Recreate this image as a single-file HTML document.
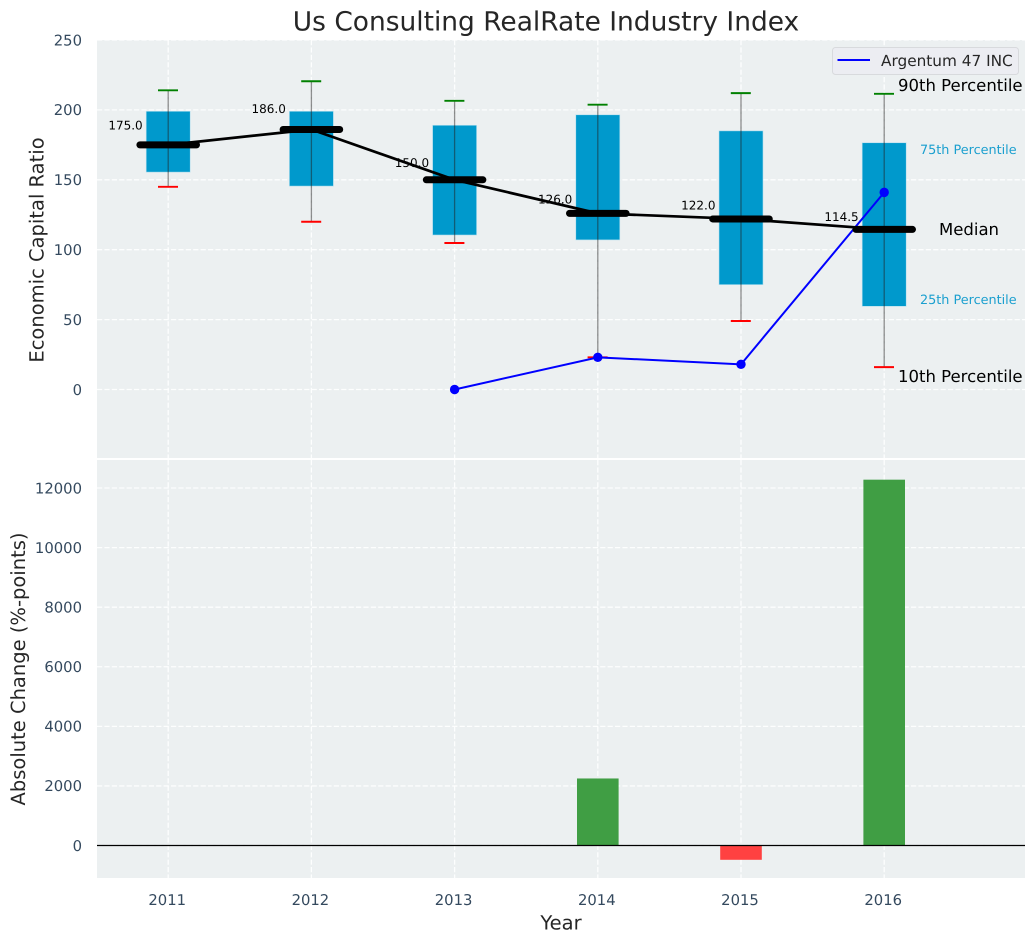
<!DOCTYPE html>
<html lang="en">
<head>
<meta charset="utf-8">
<title>Us Consulting RealRate Industry Index</title>
<style>
html,body{margin:0;padding:0;background:#fff;width:1035px;height:942px;overflow:hidden}
svg{display:block;font-family:"DejaVu Sans","Liberation Sans",sans-serif;text-rendering:geometricPrecision}
</style>
</head>
<body>
<svg id="chart" xmlns="http://www.w3.org/2000/svg" width="1035" height="942" viewBox="0 0 1035 942">
<rect x="0" y="0" width="1035" height="942" fill="#ffffff"/>
<rect x="97" y="40" width="928" height="418" fill="#ecf0f1"/>
<rect x="97" y="460" width="928" height="418" fill="#ecf0f1"/>
<g id="top-grid"></g>
<g id="bottom-grid"></g>
<g id="bars"></g>
<g id="boxes"></g>
<g id="company-line"></g>
<g id="medians"></g>
<g id="labels"></g>
<text x="546" y="30.500" font-size="26.450" text-anchor="middle" fill="#262626">Us Consulting RealRate Industry Index</text>
<text transform="translate(43.500,250) rotate(-90)" font-size="19.500" text-anchor="middle" fill="#262626">Economic Capital Ratio</text>
<text transform="translate(25,669) rotate(-90)" font-size="19.500" text-anchor="middle" fill="#262626">Absolute Change (%-points)</text>
<text x="561" y="929.300" font-size="19.500" text-anchor="middle" fill="#262626">Year</text>
<text x="898" y="91" font-size="16.500" fill="#000000">90th Percentile</text>
<text x="920" y="154" font-size="12.800" fill="#1a9fcf">75th Percentile</text>
<text x="939" y="235" font-size="16.500" fill="#000000">Median</text>
<text x="920" y="304" font-size="12.800" fill="#1a9fcf">25th Percentile</text>
<text x="898" y="382" font-size="16.500" fill="#000000">10th Percentile</text>
<g>
<rect x="832.500" y="47.500" width="186" height="27" rx="3" fill="#ecedf2" stroke="#d8dadd" stroke-width="1"/>
<line x1="837.500" y1="60" x2="870" y2="60" stroke="#0000ff" stroke-width="2"/>
<text x="881" y="66" font-size="15.300" fill="#262626">Argentum 47 INC</text>
</g>
</svg>
<script>
const years = [2011, 2012, 2013, 2014, 2015, 2016];
const p90 = [214, 220.5, 206.5, 203.7, 212, 211.5];
const p75 = [199, 199, 189, 196.5, 185, 176.5];
const medianValues = [175, 186, 150, 126, 122, 114.5];
const p25 = [155.5, 145.5, 110.5, 107, 75, 59.5];
const p10 = [145, 120, 104.8, 23, 49, 16];
const companyValues = [null, null, 0, 23, 18, 141];
const changeValues = [null, null, null, 2250, -480, 12280];
const topTicks = [0, 50, 100, 150, 200, 250];
const bottomTicks = [0, 2000, 4000, 6000, 8000, 10000, 12000];

const svgNS = 'http://www.w3.org/2000/svg';
function xPos(i) { return 168.2 + i * 143.2; }
function yTop(v) { return 389.5 - v * 1.398; }
function yBottom(v) { return 845.5 - v * 0.02979; }
function make(tag, parent, attrs) {
  const el = document.createElementNS(svgNS, tag);
  for (const k in attrs) el.setAttribute(k, attrs[k]);
  parent.appendChild(el);
  return el;
}
const topGrid = document.getElementById('top-grid');
const bottomGrid = document.getElementById('bottom-grid');
const barsG = document.getElementById('bars');
const boxesG = document.getElementById('boxes');
const companyG = document.getElementById('company-line');
const mediansG = document.getElementById('medians');
const labelsG = document.getElementById('labels');
const dash = { stroke: '#ffffff', 'stroke-width': 1.3, 'stroke-dasharray': '5.2 2.2', 'stroke-opacity': 0.9 };

topTicks.forEach(function (t) {
  const y = yTop(t);
  const g = make('line', topGrid, Object.assign({ x1: 97, x2: 1025, y1: y, y2: y }, dash));
  
  
  const l = make('text', labelsG, { x: 82, y: y + 5.3, 'text-anchor': 'end', 'font-size': 14.8, fill: '#34495e' });
  
  
  l.textContent = t;
});
bottomTicks.forEach(function (t) {
  const y = yBottom(t);
  const g = make('line', bottomGrid, Object.assign({ x1: 97, x2: 1025, y1: y, y2: y }, dash));
  
  
  const l = make('text', labelsG, { x: 82, y: y + 5.3, 'text-anchor': 'end', 'font-size': 14.8, fill: '#34495e' });
  
  
  l.textContent = t;
});
years.forEach(function (year, i) {
  const x = xPos(i);
  const g1 = make('line', topGrid, Object.assign({ x1: x, x2: x, y1: 40, y2: 458 }, dash));
  
  
  const g2 = make('line', bottomGrid, Object.assign({ x1: x, x2: x, y1: 460, y2: 878 }, dash));
  
  
  const l = make('text', labelsG, { x: x - 1, y: 905, 'text-anchor': 'middle', 'font-size': 14.8, fill: '#34495e' });
  
  
  l.textContent = year;
});

changeValues.forEach(function (v, i) {
  if (v === null) return;
  const x = xPos(i);
  const a = yBottom(Math.max(v, 0));
  const b = yBottom(Math.min(v, 0));
  const r = make('rect', barsG, { x: x - 20.8, y: a, width: 41.6, height: b - a, fill: v >= 0 ? '#3a9b3e' : '#ff3b3b', 'fill-opacity': 0.97 });
  
  
});
const zero = make('line', barsG, { x1: 97, x2: 1025, y1: yBottom(0), y2: yBottom(0), stroke: '#000000', 'stroke-width': 1.3 });



years.forEach(function (year, i) {
  const x = xPos(i);
  const box = make('rect', boxesG, { x: x - 22, y: yTop(p75[i]), width: 44, height: yTop(p25[i]) - yTop(p75[i]), fill: '#0099cc', stroke: '#b5dfee', 'stroke-width': 0.6 });
  
  
  const w = make('line', boxesG, { x1: x, x2: x, y1: yTop(p90[i]), y2: yTop(p10[i]), stroke: '#1f1f1f', 'stroke-opacity': 0.5, 'stroke-width': 1.3 });
  
  
  const hi = make('line', boxesG, { x1: x - 10.2, x2: x + 9.8, y1: yTop(p90[i]), y2: yTop(p90[i]), stroke: '#008000', 'stroke-width': 1.9 });
  
  
  const lo = make('line', boxesG, { x1: x - 10.2, x2: x + 9.8, y1: yTop(p10[i]), y2: yTop(p10[i]), stroke: '#ff0000', 'stroke-width': 1.9 });
  
  
});

let companyPts = [];
companyValues.forEach(function (v, i) {
  if (v !== null) companyPts.push(xPos(i) + ',' + yTop(v));
});
const cl = make('polyline', companyG, { points: companyPts.join(' '), fill: 'none', stroke: '#0000ff', 'stroke-width': 2 });


companyValues.forEach(function (v, i) {
  if (v === null) return;
  const c = make('circle', companyG, { cx: xPos(i), cy: yTop(v), r: 4.7, fill: '#0000ff' });
  
  
});

const medPts = medianValues.map(function (v, i) { return xPos(i) + ',' + yTop(v); }).join(' ');
const ml = make('polyline', mediansG, { points: medPts, fill: 'none', stroke: '#000000', 'stroke-width': 2.7 });


medianValues.forEach(function (v, i) {
  const x = xPos(i);
  const m = make('line', mediansG, { x1: x - 28.3, x2: x + 28.3, y1: yTop(v), y2: yTop(v), stroke: '#000000', 'stroke-width': 7, 'stroke-linecap': 'round' });
  
  
  const t = make('text', mediansG, { x: x - 25.5, y: yTop(v * 1.08) + 4.2, 'text-anchor': 'end', 'font-size': 12, fill: '#000000' });
  
  
  t.textContent = v.toFixed(1);
});
</script>
</body>
</html>
